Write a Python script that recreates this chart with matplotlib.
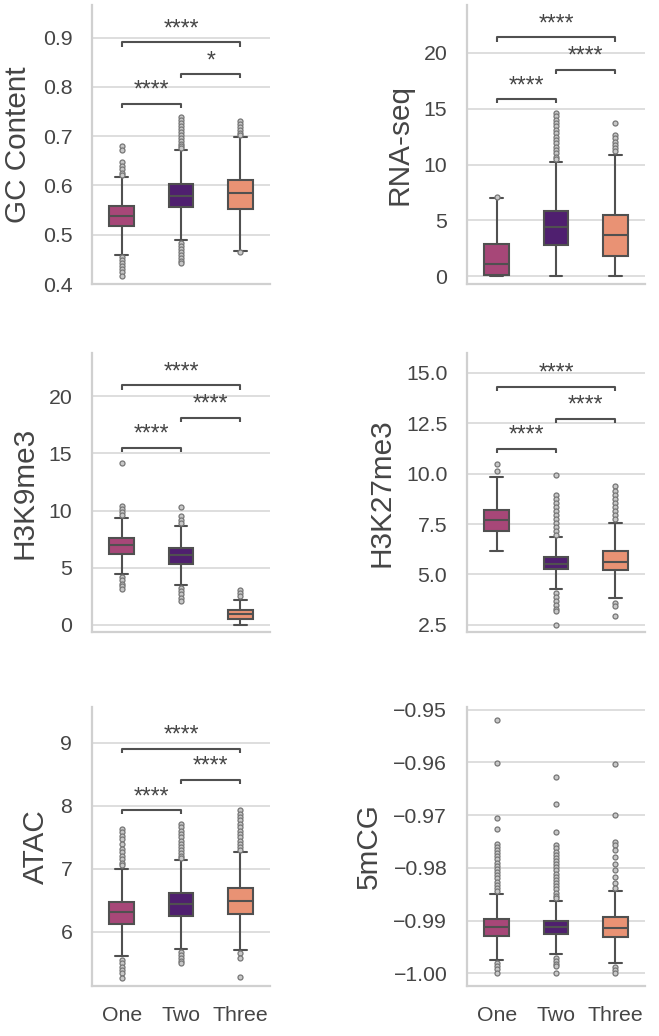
import matplotlib
matplotlib.use("Agg")
import matplotlib.pyplot as plt
import seaborn as sns
from matplotlib.ticker import ScalarFormatter

sns.set_theme(style="whitegrid")
plt.rcParams['font.family'] = ['Liberation Sans', 'DejaVu Sans']

groups = ["One", "Two", "Three"]
base_colors = ["#b73779", "#51127c", "#fc8961"]

# ---- GC Content ----
gc_q1 = [0.517, 0.556, 0.553]
gc_med = [0.5385, 0.578, 0.584]
gc_q3 = [0.559, 0.603, 0.611]
gc_wlo = [0.459, 0.4885, 0.466]
gc_whi = [0.618, 0.671, 0.699]
gc_fl_one = [0.680, 0.672, 0.647, 0.640, 0.633, 0.626, 0.621,
             0.455, 0.449, 0.443, 0.436, 0.430, 0.424, 0.416]
gc_fl_two = [0.739, 0.733, 0.727, 0.720, 0.714, 0.708, 0.702, 0.696, 0.690, 0.685, 0.680, 0.676,
             0.483, 0.477, 0.471, 0.465, 0.459, 0.453, 0.447, 0.442]
gc_fl_three = [0.730, 0.724, 0.718, 0.712, 0.706, 0.702, 0.4645]
gc_ann = [0.765, 0.8257, 0.89]
gc_ann_txt = ["****", "*", "****"]

# ---- RNA-seq ----
rna_q1 = [0.15, 2.83, 1.79]
rna_med = [1.13, 4.375, 3.72]
rna_q3 = [2.89, 5.86, 5.51]
rna_wlo = [0.0, 0.0, 0.0]
rna_whi = [7.0, 10.27, 10.86]
rna_fl_one = [7.14]
rna_fl_two = [14.58, 14.3, 14.0, 13.7, 13.4, 13.1, 12.8, 12.5, 12.2, 11.9, 11.6, 11.3, 11.0, 10.7, 10.45]
rna_fl_three = [13.75, 12.65, 12.35, 12.05, 11.75, 11.45, 11.2]
rna_ann = [15.83, 18.45, 21.37]
rna_ann_txt = ["****", "****", "****"]

# ---- H3K9me3 ----
k9_q1 = [6.22, 5.34, 0.53]
k9_med = [7.0, 6.07, 0.9]
k9_q3 = [7.62, 6.72, 1.26]
k9_wlo = [4.44, 3.5, 0.0]
k9_whi = [9.34, 8.61, 2.19]
k9_fl_one = [14.2, 10.36, 10.1, 9.85, 9.6, 4.2, 3.9, 3.6, 3.35, 3.1]
k9_fl_two = [10.28, 9.49, 9.2, 8.9, 3.25, 2.95, 2.65, 2.35, 2.05]
k9_fl_three = [3.07, 2.8, 2.5]
k9_ann = [15.47, 18.1, 20.96]
k9_ann_txt = ["****", "****", "****"]

# ---- H3K27me3 ----
k27_q1 = [7.14, 5.26, 5.2]
k27_med = [7.68, 5.53, 5.61]
k27_q3 = [8.21, 5.86, 6.14]
k27_wlo = [6.14, 4.27, 3.82]
k27_whi = [9.83, 6.85, 7.55]
k27_fl_one = [10.5, 10.12]
k27_fl_two = [9.92, 8.96, 8.75, 8.55, 8.35, 8.15, 7.95, 7.75, 7.55, 7.35, 7.15, 6.97,
              4.07, 3.9, 3.7, 3.5, 3.3, 3.16, 2.5]
k27_fl_three = [9.37, 9.15, 8.95, 8.75, 8.55, 8.35, 8.15, 7.95, 7.75, 3.58, 3.41, 2.91]
k27_ann = [11.22, 12.72, 14.3]
k27_ann_txt = ["****", "****", "****"]

# ---- ATAC ----
atac_q1 = [6.13, 6.25, 6.29]
atac_med = [6.32, 6.44, 6.49]
atac_q3 = [6.476, 6.61, 6.69]
atac_wlo = [5.61, 5.735, 5.71]
atac_whi = [7.0, 7.14, 7.27]
atac_fl_one = [7.64, 7.58, 7.52, 7.47, 7.39, 7.31, 7.26, 7.21, 7.15, 7.10, 7.06,
               5.55, 5.50, 5.44, 5.39, 5.34, 5.27]
atac_fl_two = [7.71, 7.66, 7.60, 7.55, 7.50, 7.45, 7.40, 7.35, 7.30, 7.25, 7.20, 7.17,
               5.68, 5.63, 5.58, 5.53, 5.50]
atac_fl_three = [7.93, 7.87, 7.82, 7.77, 7.71, 7.66, 7.60, 7.55, 7.50, 7.45, 7.40, 7.35, 7.30,
                 5.66, 5.58, 5.29]
atac_ann = [7.93, 8.41, 8.91]
atac_ann_txt = ["****", "****", "****"]

# ---- 5mCG ----
mcg_q1 = [-0.99293, -0.99255, -0.99306]
mcg_med = [-0.99129, -0.99129, -0.99148]
mcg_q3 = [-0.98977, -0.99003, -0.98939]
mcg_wlo = [-0.99747, -0.99634, -0.99811]
mcg_whi = [-0.98497, -0.98624, -0.98434]
mcg_fl_one = [-0.9520, -0.9601, -0.9705, -0.9727, -0.9754, -0.9760, -0.9766, -0.9772, -0.9778,
              -0.9784, -0.9790, -0.9796, -0.9802, -0.9808, -0.9814, -0.9820, -0.9826, -0.9832,
              -0.9838, -0.9844, -0.9980, -0.9986, -0.9992, -1.0000]
mcg_fl_two = [-0.9628, -0.9679, -0.9732, -0.9757, -0.9763, -0.9769, -0.9775, -0.9781, -0.9787,
              -0.9793, -0.9799, -0.9805, -0.9811, -0.9817, -0.9823, -0.9829, -0.9835, -0.9841,
              -0.9847, -0.9853, -0.9858, -0.9970, -0.9976, -0.9982, -0.9987, -1.0000]
mcg_fl_three = [-0.96035, -0.96989, -0.97506, -0.9757, -0.9767, -0.9779, -0.9792, -0.9804,
                -0.9817, -0.9829, -0.9839, -0.9988, -0.9993, -1.0000]
mcg_ann = []
mcg_ann_txt = []

panels = [
    ("GC Content", gc_q1, gc_med, gc_q3, gc_wlo, gc_whi, [gc_fl_one, gc_fl_two, gc_fl_three],
     gc_ann, gc_ann_txt, (0.4, 0.966), [0.4, 0.5, 0.6, 0.7, 0.8, 0.9]),
    ("RNA-seq", rna_q1, rna_med, rna_q3, rna_wlo, rna_whi, [rna_fl_one, rna_fl_two, rna_fl_three],
     rna_ann, rna_ann_txt, (-0.68, 24.26), [0, 5, 10, 15, 20]),
    ("H3K9me3", k9_q1, k9_med, k9_q3, k9_wlo, k9_whi, [k9_fl_one, k9_fl_two, k9_fl_three],
     k9_ann, k9_ann_txt, (-0.64, 23.8), [0, 5, 10, 15, 20]),
    ("H3K27me3", k27_q1, k27_med, k27_q3, k27_wlo, k27_whi, [k27_fl_one, k27_fl_two, k27_fl_three],
     k27_ann, k27_ann_txt, (2.14, 15.99), [2.5, 5.0, 7.5, 10.0, 12.5, 15.0]),
    ("ATAC", atac_q1, atac_med, atac_q3, atac_wlo, atac_whi, [atac_fl_one, atac_fl_two, atac_fl_three],
     atac_ann, atac_ann_txt, (5.14, 9.57), [6, 7, 8, 9]),
    ("5mCG", mcg_q1, mcg_med, mcg_q3, mcg_wlo, mcg_whi, [mcg_fl_one, mcg_fl_two, mcg_fl_three],
     mcg_ann, mcg_ann_txt, (-1.0024, -0.9495), [-1.00, -0.99, -0.98, -0.97, -0.96, -0.95]),
]

W, H = 659, 1036
fig = plt.figure(figsize=(W / 100, H / 100), dpi=100)
col_x = [(92, 270), (467, 645)]
row_y = [(5, 284), (353, 632), (707, 986)]

line_c = "#505050"
grid_c = "#d5d5d5"
text_c = "#454545"
pairs = [(0, 1), (1, 2), (0, 2)]

for i, (label, q1, med, q3, wlo, whi, fliers, ann, ann_txt, ylim, yticks) in enumerate(panels):
    r, c = divmod(i, 2)
    l, rr = col_x[c]
    t, b = row_y[r]
    ax = fig.add_axes([l / W, 1 - b / H, (rr - l) / W, (b - t) / H])
    stats = []
    for g in range(3):
        stats.append(dict(med=med[g], q1=q1[g], q3=q3[g], whislo=wlo[g], whishi=whi[g],
                          fliers=fliers[g], label=groups[g]))
    bp = ax.bxp(stats, positions=[0, 1, 2], widths=0.42, patch_artist=True,
                showfliers=True, capwidths=0.21,
                boxprops=dict(edgecolor=line_c, linewidth=1.5),
                medianprops=dict(color=line_c, linewidth=1.5),
                whiskerprops=dict(color=line_c, linewidth=1.5),
                capprops=dict(color=line_c, linewidth=1.5),
                flierprops=dict(marker='o', markersize=3.6, markerfacecolor='#c8c8c8',
                                markeredgecolor='#767676', markeredgewidth=0.9))
    for patch, col in zip(bp['boxes'], base_colors):
        patch.set_facecolor(sns.desaturate(col, 0.75))
    ax.set_xlim(-0.5, 2.5)
    ax.set_ylim(*ylim)
    ax.set_yticks(yticks)
    fmt = ScalarFormatter(useOffset=False)
    ax.yaxis.set_major_formatter(fmt)
    ax.grid(axis='x', visible=False)
    ax.grid(axis='y', color=grid_c, linewidth=1.1)
    for s in ['top', 'right']:
        ax.spines[s].set_visible(False)
    for s in ['left', 'bottom']:
        ax.spines[s].set_color('#d0d0d0')
        ax.spines[s].set_linewidth(1.6)
    ax.set_xticks([0, 1, 2])
    if r == 2:
        ax.set_xticklabels(groups)
    else:
        ax.set_xticklabels([])
    ax.tick_params(axis='both', labelsize=15.3, pad=14.2, length=0, labelcolor=text_c)
    ax.set_ylabel(label, fontsize=21.4, labelpad=7.5, color=text_c)
    yr = ylim[1] - ylim[0]
    tick = 0.015 * yr
    for (a, bb), y, txt in zip(pairs, ann, ann_txt):
        ax.plot([a, a, bb, bb], [y - tick, y, y, y - tick], color=line_c, lw=1.5,
                solid_capstyle='butt', clip_on=False)
        ax.annotate(txt, xy=((a + bb) / 2, y), xytext=(0, 1.5), textcoords='offset points',
                    ha='center', va='bottom', fontsize=16.5, color=text_c)

fig.savefig("out.png", dpi=100)
